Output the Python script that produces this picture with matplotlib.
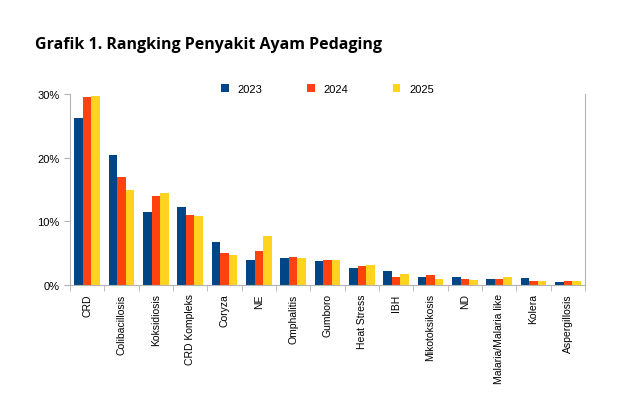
import matplotlib
matplotlib.use("Agg")
import matplotlib.pyplot as plt
import numpy as np
from matplotlib.ticker import PercentFormatter

categories = ["CRD","Colibacillosis","Koksidiosis","CRD Kompleks","Coryza","NE","Omphalitis","Gumboro",
              "Heat Stress","IBH","Mikotoksikosis","ND","Malaria/Malaria like","Kolera","Aspergillosis"]
v2023 = [26.3,20.4,11.4,12.3,6.7,4.0,4.2,3.8,2.6,2.2,1.2,1.2,1.0,1.1,0.5]
v2024 = [29.6,17.0,14.0,11.0,5.1,5.4,4.4,4.0,3.0,1.3,1.5,1.0,1.0,0.7,0.7]
v2025 = [29.7,15.0,14.4,10.9,4.7,7.7,4.2,4.0,3.1,1.8,0.9,0.75,1.2,0.7,0.7]
years = ["2023","2024","2025"]
colors = ["#004586","#ff420e","#ffd320"]

fig = plt.figure(figsize=(6.4,4.1), dpi=100)
ax = fig.add_axes([70/640, 1-286/410, 515/640, 191/410])
x = np.arange(len(categories))
w = 0.25
for i,(vals,c,lab) in enumerate(zip([v2023,v2024,v2025],colors,years)):
    ax.bar(x+(i-1)*w, vals, w, color=c, label=lab)
ax.set_xlim(-0.5, len(categories)-0.5)
ax.set_ylim(0,30)
ax.set_yticks([0,10,20,30])
ax.yaxis.set_major_formatter(PercentFormatter(decimals=0))
ax.set_xticks(x)
ax.set_xticklabels(categories, rotation=90, fontsize=7.5, family="Liberation Sans")
ax.set_xticks(np.arange(len(categories)+1)-0.5, minor=True)
ax.tick_params(axis='x', which='major', length=0, pad=6)
ax.tick_params(axis='x', which='minor', length=4, color="#b3b3b3")
ax.tick_params(axis='y', labelsize=8, length=4, color="#b3b3b3")
for t in ax.get_yticklabels(): t.set_family("Liberation Sans")
for s in ax.spines.values(): s.set_color("#b3b3b3")
ax.spines['top'].set_visible(False)
ax.legend(loc="lower center", bbox_to_anchor=(0.5,0.97), ncol=3, frameon=False, borderpad=0,
          prop={"family":"Liberation Sans","size":8}, handlelength=0.7, handleheight=0.7, columnspacing=4)
fig.text(35/640, 1-45/410, "Grafik 1. Rangking Penyakit Ayam Pedaging", fontsize=11.5, weight="bold",
         family="Open Sans", va="center")
fig.savefig("out.png", dpi=100)
